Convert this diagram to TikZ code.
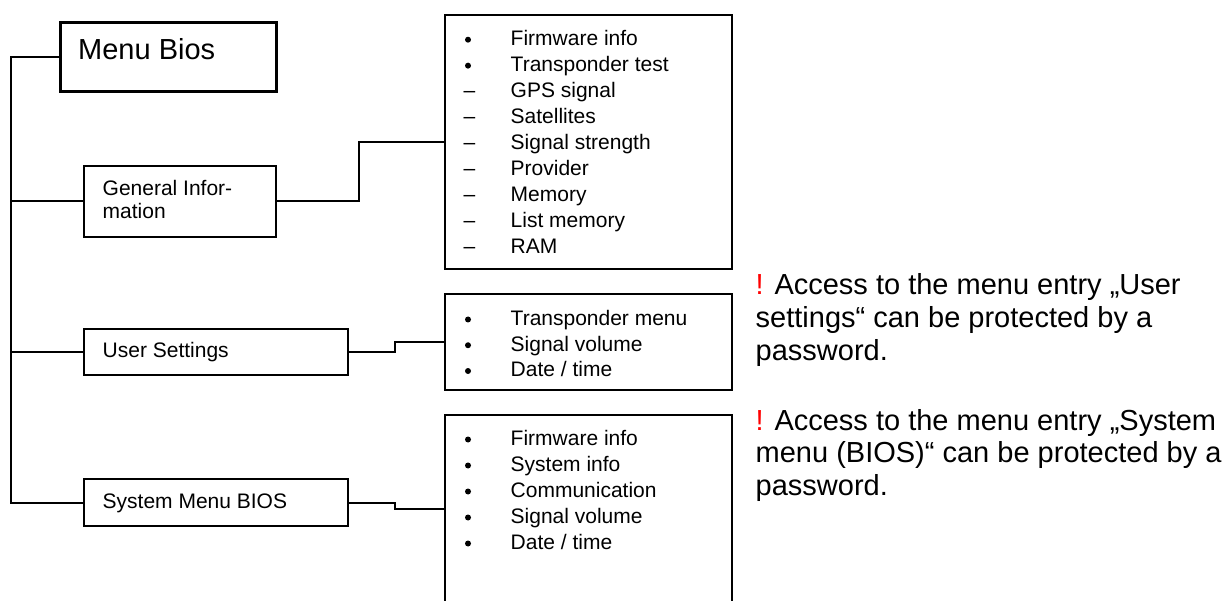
\documentclass[tikz,border=0pt]{standalone}
\usepackage{fontspec}
\setmainfont{Liberation Sans}
\begin{document}
\begin{tikzpicture}[x=1pt,y=-1pt,
  box/.style={draw, line width=2pt, inner sep=0pt, anchor=north west},
  conn/.style={line width=2pt},
  txt/.style={inner sep=0pt, anchor=base west, font=\fontsize{21}{25}\selectfont},
  note/.style={inner sep=0pt, anchor=base west, font=\fontsize{29}{32}\selectfont},
]
\useasboundingbox (0,0) rectangle (1231,601);
\clip (0,0) rectangle (1231,601);

% boxes
\node[box, line width=2.8pt, minimum width=216pt, minimum height=69pt] (menu) at (59,21) {};
\node[box, minimum width=192pt, minimum height=71pt] (gen) at (83,165) {};
\node[box, minimum width=264pt, minimum height=46pt] (us) at (83,328) {};
\node[box, minimum width=264pt, minimum height=47pt] (sys) at (83,478) {};
\node[box, minimum width=287.5pt, minimum height=253.5pt] (l1) at (443.5,14.5) {};
\node[box, minimum width=287.5pt, minimum height=95pt] (l2) at (443.5,293.5) {};
\node[box, minimum width=287.5pt, minimum height=220pt] (l3) at (443.5,413.5) {};

% connectors
\coordinate (tr) at (11,56);
\coordinate (j1) at (359,0);
\coordinate (j2) at (395,0);
\coordinate (l3in) at ([yshift=-95.5pt]l3.north west);
\draw[conn] (menu.west) -- (menu.west -| tr) |- (sys.west);
\draw[conn] (gen.west) -- (gen.west -| tr);
\draw[conn] (us.west) -- (us.west -| tr);
\draw[conn] (gen.east) -- (gen.east -| j1) |- (l1.west);
\draw[conn] (us.east) -- (us.east -| j2) |- (l2.west);
\draw[conn] (sys.east) -- (sys.east -| j2) |- (l3in);

% box texts
\node[inner sep=0pt, anchor=base west, font=\fontsize{29}{32}\selectfont] (tmenu) at (78,59.3) {Menu Bios};
\node[txt] (tgen1) at (102.5,195.5) {General Infor-};
\node[txt] (tgen2) at (102.5,218.8) {mation};
\node[txt] (tus) at (102.5,357.3) {User Settings};
\node[txt] (tsys) at (102.5,508.3) {System Menu BIOS};

% list 1
\foreach \t [count=\i from 0] in {Firmware info,Transponder test,GPS signal,Satellites,Signal strength,Provider,Memory,List memory,RAM} {
  \pgfmathsetmacro\yb{45.7+25.95*\i}
  \node[txt] (la\i) at (510.5,\yb) {\t};
  \ifnum\i<2 \fill (468,\yb-6) circle (3pt); \else \node[txt] (da\i) at (463.5,\yb) {–}; \fi
}
% list 2
\foreach \t [count=\i from 0] in {Transponder menu,Signal volume,Date / time} {
  \pgfmathsetmacro\yb{325.5+25.75*\i}
  \node[txt] (lb\i) at (510.5,\yb) {\t};
  \fill (468,\yb-6) circle (3pt);
}
% list 3
\foreach \t [count=\i from 0] in {Firmware info,System info,Communication,Signal volume,Date / time} {
  \pgfmathsetmacro\yb{445.5+26*\i}
  \node[txt] (lc\i) at (510.5,\yb) {\t};
  \fill (468,\yb-6) circle (3pt);
}

% notes
\node[note] (n1a) at (755.5,295) {{\color{red}!} Access to the menu entry „User};
\node[note] (n1b) at (755.5,327.5) {settings“ can be protected by a};
\node[note] (n1c) at (755.5,360) {password.};
\node[note] (n2a) at (755.5,430) {{\color{red}!} Access to the menu entry „System};
\node[note] (n2b) at (755.5,462.5) {menu (BIOS)“ can be protected by a};
\node[note] (n2c) at (755.5,495) {password.};
\end{tikzpicture}
\end{document}
